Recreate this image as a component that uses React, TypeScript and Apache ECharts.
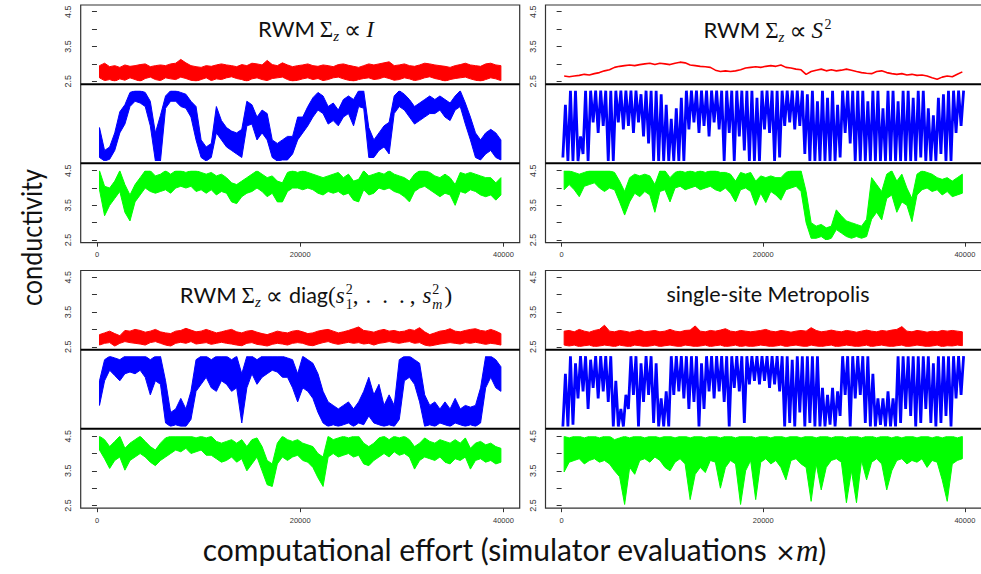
import React, { useEffect, useRef } from "react";
import * as echarts from "echarts";

// ---------------- data (bins of 500 evaluations: low / high of the trace in each bin) ----------------
const BIN = 500;
const xTickValues = [0, 20000, 40000];
const yTickLabels = [2.5, 3.5, 4.5];

// top-left: RWM Sigma_z ∝ I
const tlRedLo = [2.6,2.52,2.55,2.5,2.57,2.53,2.6,2.55,2.5,2.58, 2.62,2.55,2.52,2.6,2.57,2.55,2.62,2.58,2.53,2.5, 2.55,2.6,2.52,2.57,2.55,2.6,2.63,2.58,2.55,2.5, 2.57,2.6,2.55,2.52,2.58,2.6,2.62,2.55,2.5,2.53, 2.57,2.6,2.55,2.58,2.52,2.55,2.6,2.62,2.57,2.53, 2.5,2.55,2.58,2.6,2.55,2.57,2.62,2.58,2.53,2.55, 2.6,2.57,2.52,2.55,2.6,2.63,2.58,2.55,2.5,2.55, 2.58,2.6,2.62,2.57,2.53,2.5,2.55,2.6,2.57,2.52];
const tlRedHi = [2.95,3.02,2.92,2.95,2.9,2.97,2.93,2.95,2.98,3.0, 2.92,2.95,2.97,2.95,3.0,3.02,3.13,3.03,2.95,2.92, 2.9,2.95,2.93,2.97,3.0,2.97,2.95,2.92,2.98,2.95, 3.02,3.0,2.97,3.1,2.98,2.95,3.03,2.97,2.92,2.95, 2.97,3.0,2.95,2.93,2.97,2.95,2.92,2.98,3.0,2.96, 2.93,2.9,2.95,3.0,2.97,3.0,3.03,3.06,2.95,2.97, 3.0,2.95,2.93,2.97,3.02,3.0,2.97,2.95,2.93,2.9, 2.95,2.98,3.02,2.97,2.95,2.93,3.0,3.02,2.97,2.95];
const tlBlueLo = [2.6,2.5,2.55,2.8,3.3,3.55,4.05,4.2,4.15,4.05, 3.5,2.5,2.5,4.0,4.2,4.2,4.05,4.0,3.75,3.1, 2.6,2.5,2.6,3.3,3.1,2.9,2.8,2.7,2.6,3.5, 3.55,3.1,3.3,3.1,2.6,2.5,2.53,2.53,2.7,3.1, 3.3,3.5,3.75,3.95,3.85,3.55,3.65,3.5,3.75,3.85, 3.5,4.05,4.0,2.6,2.6,2.8,2.9,2.7,3.85,4.05, 3.95,3.75,3.55,3.65,3.75,3.85,3.85,3.95,3.75,3.65, 3.95,4.05,3.55,3.1,2.6,2.53,2.7,2.8,2.6,2.53];
const tlBlueHi = [3.45,2.8,2.9,3.3,3.9,4.1,4.45,4.5,4.5,4.45, 4.2,3.3,3.8,4.35,4.5,4.5,4.45,4.4,4.2,4.05, 3.1,2.9,3.0,4.05,3.65,3.45,3.35,3.3,3.4,4.2, 4.1,3.75,3.95,3.85,3.1,3.0,3.1,3.2,3.2,3.75, 3.75,4.05,4.3,4.45,4.35,4.05,4.15,3.95,4.25,4.35, 4.25,4.5,4.5,3.45,3.1,3.3,3.5,3.6,4.35,4.5, 4.4,4.25,4.05,4.15,4.25,4.35,4.25,4.35,4.25,4.15, 4.35,4.5,4.15,3.75,3.3,3.1,3.3,3.4,3.3,3.1];
const tlGreenLo = [3.95,3.2,3.5,3.7,3.9,3.3,3.05,3.6,3.8,4.0, 3.9,3.85,3.9,3.95,3.85,4.0,4.05,4.0,4.05,3.9, 3.95,3.85,3.95,3.8,3.9,3.85,3.6,3.55,3.75,3.85, 3.9,4.0,3.9,3.75,3.85,3.6,3.6,3.9,4.0,4.0, 3.95,4.0,3.95,3.85,3.8,3.9,3.85,3.9,3.8,3.85, 3.65,3.6,3.95,3.8,3.85,4.0,3.95,4.0,3.9,3.85, 3.75,3.6,3.9,4.0,4.05,3.95,3.85,3.75,3.85,3.8, 3.5,3.9,3.85,3.95,3.9,3.8,3.75,3.8,3.65,3.8];
const tlGreenHi = [4.5,4.05,4.0,4.2,4.5,4.1,3.8,4.1,4.3,4.5, 4.5,4.35,4.4,4.5,4.4,4.5,4.5,4.45,4.5,4.5, 4.45,4.4,4.45,4.35,4.4,4.3,4.15,4.1,4.2,4.3, 4.4,4.5,4.4,4.3,4.35,4.2,4.15,4.45,4.5,4.45, 4.5,4.45,4.4,4.35,4.3,4.35,4.4,4.45,4.3,4.4, 4.2,4.25,4.5,4.35,4.4,4.45,4.4,4.5,4.4,4.35, 4.3,4.2,4.4,4.5,4.5,4.45,4.35,4.3,4.4,4.3, 4.1,4.45,4.4,4.45,4.4,4.35,4.3,4.3,4.15,4.3];

// top-right: RWM Sigma_z ∝ S^2
const trRedMid = [2.65,2.63,2.65,2.67,2.7,2.68,2.72,2.75,2.8,2.83, 2.9,2.93,2.95,2.97,2.95,2.98,3.0,3.02,2.98,3.02, 3.0,2.98,3.02,3.05,3.03,2.97,2.95,2.93,2.92,2.9, 2.82,2.78,2.8,2.78,2.8,2.83,2.88,2.9,2.92,2.9, 2.93,2.95,2.93,2.97,2.9,2.88,2.85,2.83,2.7,2.78, 2.82,2.85,2.8,2.83,2.8,2.82,2.85,2.82,2.78,2.75, 2.73,2.72,2.78,2.8,2.75,2.72,2.7,2.72,2.68,2.7, 2.67,2.68,2.65,2.6,2.56,2.62,2.65,2.63,2.7,2.77];
const trBlueLo = [2.6,2.5,2.5,2.5,2.7,2.5,3.6,3.3,3.5,2.5, 2.5,3.6,3.4,3.5,3.3,3.6,3.2,3.0,2.5,2.5, 2.5,2.5,2.5,2.5,2.5,3.4,3.6,3.3,3.5,3.2, 3.6,3.4,2.5,3.3,2.5,3.2,2.8,2.5,2.5,2.5, 3.4,3.3,2.5,2.6,3.5,3.6,3.4,3.5,2.7,2.5, 2.5,2.5,2.5,2.5,2.5,2.6,3.3,3.0,2.5,2.5, 2.5,2.5,2.5,2.5,2.5,2.5,2.5,2.5,2.5,2.5, 2.5,2.6,2.5,2.5,2.5,2.7,2.5,2.5,3.3,3.5];
const trBlueHi = [4.1,4.5,4.5,3.2,4.5,4.5,4.5,4.5,4.5,4.5, 4.5,4.5,4.5,4.5,4.5,4.4,4.5,4.5,4.5,4.4, 4.1,3.7,4.0,4.3,4.5,4.5,4.5,4.5,4.5,4.5, 4.5,4.5,4.5,4.5,4.5,4.5,4.5,4.5,4.3,4.5, 4.5,4.5,4.5,4.5,4.5,4.5,4.5,4.5,4.4,4.5, 4.2,4.5,4.3,4.5,4.1,4.5,4.5,4.5,4.5,4.5, 4.2,4.5,4.5,4.0,4.5,4.5,4.2,4.5,4.5,4.3, 4.5,4.5,4.0,3.8,4.3,4.4,4.5,4.5,4.5,4.5];
const trGreenLo = [3.95,4.1,3.95,3.75,4.05,4.1,4.15,4.0,3.9,4.0, 3.95,3.6,3.22,3.6,3.85,3.75,3.9,3.8,3.3,3.9, 3.95,3.6,4.0,4.05,3.95,4.0,4.05,3.95,4.0,4.05, 3.95,3.9,4.0,3.85,3.6,3.95,4.0,3.9,3.5,3.85, 3.58,3.9,3.8,3.65,3.95,4.0,4.05,3.9,3.0,2.55, 2.55,2.6,2.5,2.55,2.8,2.7,2.6,2.55,2.6,2.55, 2.6,3.1,3.3,3.08,3.7,3.8,3.3,3.6,3.5,3.03, 3.8,3.95,4.0,3.9,3.95,3.8,3.9,3.75,3.8,3.85];
const trGreenHi = [4.5,4.5,4.45,4.4,4.45,4.5,4.5,4.5,4.5,4.5, 4.45,4.2,3.9,4.3,4.4,4.35,4.4,4.35,4.1,4.5, 4.5,4.3,4.45,4.5,4.45,4.5,4.45,4.5,4.45,4.5, 4.5,4.45,4.45,4.4,4.2,4.45,4.4,4.45,4.2,4.35, 4.3,4.35,4.3,4.3,4.45,4.5,4.5,4.5,3.9,3.0, 2.9,2.95,2.85,2.9,3.37,3.2,3.05,3.0,2.95,2.9, 3.1,4.3,4.1,3.9,4.4,4.5,4.2,4.4,4.0,3.7, 4.4,4.5,4.45,4.4,4.3,4.25,4.3,4.2,4.3,4.4];

// bottom-left: RWM Sigma_z ∝ diag(s1^2,...,sm^2)
const blRedLo = [2.55,2.6,2.62,2.52,2.6,2.65,2.62,2.6,2.58,2.55, 2.62,2.65,2.6,2.55,2.52,2.6,2.63,2.6,2.65,2.58, 2.6,2.62,2.57,2.6,2.63,2.6,2.58,2.55,2.53,2.6, 2.62,2.57,2.55,2.52,2.57,2.6,2.58,2.55,2.6,2.62, 2.6,2.55,2.53,2.58,2.62,2.65,2.6,2.57,2.6,2.63, 2.6,2.62,2.58,2.6,2.55,2.6,2.62,2.65,2.62,2.6, 2.63,2.65,2.6,2.62,2.55,2.52,2.55,2.58,2.6,2.62, 2.6,2.58,2.62,2.6,2.63,2.6,2.57,2.6,2.58,2.55];
const blRedHi = [2.85,2.9,2.95,2.88,2.82,2.97,2.95,3.0,2.97,2.92, 2.95,3.0,2.93,2.9,2.88,2.95,2.97,3.03,2.98,2.93, 2.95,3.0,2.95,2.9,2.93,2.97,3.0,2.93,2.9,2.95, 2.97,2.92,2.88,2.85,2.9,2.95,2.92,2.9,2.95,2.97, 2.93,2.88,2.9,2.95,2.98,3.0,2.95,2.9,2.93,2.97, 3.02,3.07,2.97,2.95,2.92,2.97,3.0,2.95,2.97,2.93, 2.95,3.0,2.97,3.05,2.93,2.85,2.9,2.95,2.97,3.02, 2.95,2.93,2.97,3.0,3.02,2.97,2.95,3.0,2.95,2.88];
const blBlueLo = [3.1,3.8,4.1,3.95,3.8,4.0,4.05,4.0,4.1,3.9, 3.4,3.8,3.7,2.6,2.5,2.55,2.5,2.5,2.7,3.5, 3.7,3.9,3.6,3.5,3.8,3.7,3.5,3.6,2.6,3.6, 4.0,3.7,3.9,4.0,4.1,4.05,3.9,3.9,3.6,3.2, 3.6,3.5,3.3,2.9,2.6,2.5,2.55,2.5,2.55,2.6, 2.5,2.6,2.55,2.8,2.6,2.55,2.5,2.55,2.5,2.7, 3.8,3.9,3.7,3.2,2.5,2.55,2.5,2.6,2.55,2.5, 2.6,2.55,2.5,2.55,2.5,2.6,3.6,3.9,3.6,3.5];
const blBlueHi = [3.8,4.4,4.5,4.45,4.4,4.5,4.5,4.5,4.5,4.5, 4.4,4.5,4.5,3.8,2.9,3.0,3.3,3.0,3.5,4.4, 4.5,4.5,4.4,4.5,4.5,4.5,4.4,4.5,4.0,4.5, 4.5,4.4,4.5,4.5,4.5,4.5,4.5,4.45,4.4,4.0, 4.5,4.4,4.3,4.0,3.5,3.2,3.1,3.0,3.1,3.2, 3.0,3.2,3.5,3.9,3.4,3.7,3.1,3.4,3.1,4.4, 4.5,4.5,4.4,4.3,3.4,3.1,3.2,3.0,3.2,3.0, 3.3,3.0,3.1,3.05,3.1,3.6,4.5,4.5,4.4,4.2];
const blGreenLo = [4.1,3.85,3.57,3.8,3.9,3.52,3.8,3.9,4.0,3.9, 3.75,3.65,3.8,3.9,4.0,4.1,4.05,4.15,4.0,4.05, 4.1,3.95,3.95,3.85,3.75,3.8,3.9,3.75,3.85,3.5, 3.7,3.9,3.5,3.1,3.05,3.7,3.9,3.8,3.9,3.95, 3.8,3.75,3.6,3.3,3.05,3.9,4.0,3.9,3.95,4.0, 3.9,3.95,3.7,3.65,3.8,3.9,4.0,3.9,4.05,3.95, 4.0,3.9,3.55,3.8,3.9,3.85,3.8,3.9,3.75,3.7, 3.85,3.8,3.9,3.55,3.8,3.85,3.75,3.8,3.7,3.75];
const blGreenHi = [4.5,4.4,4.2,4.35,4.5,4.15,4.3,4.4,4.5,4.35, 4.2,4.1,4.3,4.45,4.5,4.5,4.5,4.5,4.5,4.45, 4.5,4.45,4.5,4.35,4.3,4.35,4.4,4.3,4.4,4.2, 4.4,4.45,4.2,3.8,3.7,4.3,4.5,4.4,4.35,4.4, 4.3,4.25,4.2,4.0,3.9,4.5,4.4,4.45,4.5,4.45, 4.5,4.5,4.3,4.2,4.3,4.45,4.5,4.4,4.5,4.45, 4.5,4.4,4.2,4.3,4.45,4.35,4.3,4.4,4.35,4.3, 4.4,4.3,4.45,4.15,4.3,4.35,4.25,4.3,4.2,4.15];

// bottom-right: single-site Metropolis
const brRedLo = [2.55,2.52,2.55,2.5,2.53,2.55,2.5,2.52,2.55,2.53, 2.5,2.55,2.52,2.5,2.55,2.53,2.5,2.52,2.55,2.5, 2.53,2.55,2.52,2.5,2.55,2.53,2.5,2.52,2.55,2.5, 2.53,2.55,2.5,2.52,2.55,2.5,2.53,2.5,2.52,2.55, 2.53,2.5,2.52,2.55,2.5,2.53,2.55,2.52,2.5,2.55, 2.52,2.5,2.53,2.55,2.5,2.52,2.55,2.53,2.5,2.52, 2.55,2.5,2.53,2.55,2.52,2.5,2.53,2.55,2.5,2.52, 2.55,2.53,2.5,2.52,2.55,2.5,2.53,2.52,2.55,2.53];
const brRedHi = [2.95,2.97,2.93,3.0,2.95,2.92,2.97,3.0,3.12,2.95, 2.93,2.97,2.95,2.92,2.95,2.98,2.93,2.95,2.97,2.93, 2.95,3.0,2.95,2.93,2.97,2.98,3.1,2.95,2.93,2.97, 2.95,2.98,3.02,2.95,2.93,2.97,2.95,2.93,2.95,2.97, 3.0,2.95,2.93,2.97,2.95,2.92,2.95,2.97,2.95,3.05, 2.97,2.93,2.95,2.98,2.95,2.93,2.97,2.95,2.92,2.95, 2.98,2.95,2.93,2.97,2.95,2.98,3.0,3.08,2.95,2.93, 2.97,2.95,2.92,2.95,2.93,2.97,2.95,2.97,2.95,2.93];
const brBlueLo = [2.5,2.5,2.55,3.3,3.5,3.0,3.6,3.3,3.5,3.2, 2.5,2.5,2.5,3.0,3.4,2.5,3.2,3.4,2.6,2.5, 2.5,2.5,3.4,3.5,3.3,3.0,3.2,2.5,3.0,3.5, 3.3,3.5,3.2,2.5,3.6,3.5,2.6,3.7,3.8,3.7, 3.8,3.6,3.7,3.5,2.5,2.6,2.5,2.9,2.5,2.6, 2.5,2.5,2.5,2.55,2.5,2.8,3.4,2.5,3.3,3.4, 2.6,2.5,2.5,2.55,2.5,2.5,2.5,2.6,3.0,2.8, 2.5,2.6,3.0,2.6,2.5,2.6,2.8,2.5,3.3,3.4];
const brBlueHi = [4.0,4.5,4.3,4.5,4.5,4.4,4.5,4.5,4.5,4.5, 3.8,3.0,3.4,4.5,4.5,4.3,4.5,4.5,4.3,3.3, 3.5,4.5,4.5,4.5,4.5,4.5,4.5,4.3,4.5,4.5, 4.5,4.5,4.5,4.5,4.5,4.5,4.5,4.5,4.5,4.5, 4.5,4.5,4.5,4.5,4.5,4.4,4.5,4.5,4.5,4.5, 4.5,3.6,3.4,3.6,3.5,4.5,4.5,4.5,4.5,4.5, 4.5,4.0,3.3,3.3,3.5,3.3,4.5,4.5,4.5,4.5, 4.5,4.5,4.5,4.3,4.5,4.5,4.5,4.5,4.5,4.5];
const brGreenLo = [3.47,3.75,3.8,3.85,3.7,3.8,3.85,3.75,3.8,3.7, 3.5,3.33,2.53,3.6,3.4,3.8,3.85,3.75,3.9,3.8, 3.6,3.5,3.75,3.85,3.7,2.67,3.4,3.6,3.45,3.8, 3.75,3.0,3.6,3.8,3.7,2.53,3.5,3.8,2.67,3.75, 3.85,3.7,3.8,3.6,3.24,3.8,3.85,3.7,3.6,2.62, 3.7,2.95,3.6,3.8,3.85,3.75,2.58,3.5,2.58,3.8, 3.24,3.75,3.85,3.7,2.95,3.5,3.8,3.85,3.7,3.8, 3.75,3.85,3.6,3.8,3.75,3.24,2.62,3.7,3.8,3.85];
const brGreenHi = [4.5,4.45,4.5,4.5,4.45,4.5,4.5,4.45,4.5,4.5, 4.4,4.45,4.5,4.45,4.5,4.5,4.45,4.5,4.5,4.45, 4.5,4.5,4.45,4.5,4.5,4.45,4.5,4.5,4.45,4.5, 4.5,4.45,4.5,4.5,4.45,4.5,4.5,4.5,4.45,4.5, 4.5,4.45,4.5,4.5,4.45,4.5,4.5,4.45,4.5,4.5, 4.45,4.5,4.5,4.45,4.5,4.5,4.45,4.5,4.5,4.45, 4.5,4.5,4.45,4.5,4.5,4.45,4.5,4.45,4.5,4.5, 4.45,4.5,4.5,4.45,4.5,4.45,4.5,4.5,4.45,4.5];

const yAxisTitle = "conductivity";
const xAxisTitle = "computational effort (simulator evaluations ";
const bottomRightTitle = "single-site Metropolis";

// ---------------- layout ----------------
const COLORS = ["#ff0000", "#0000ff", "#00ff00"];
const STRIP_TOP = [11.7, 90.7, 170.7];
const STRIP_H = [69.6, 70.3, 69.3];
const BOX_TOP = 5;
const BOX_BOTTOM = 242.7;
const SEPS = [84.3, 163.3];
const PANEL_W = 439;

// band = filled between low and high; zig = trace alternating low/high (fast switching); mid = single slow path
type Trace = { lo?: number[]; hi?: number[]; mid?: number[]; zig?: boolean };
type Piece = { t?: string; fam?: string; size?: number; it?: boolean; dy?: number; gap?: number; sup?: Piece; sub?: Piece };

const SANS = "Lato";
const SERIF = "Liberation Serif";
const sigmaZ: Piece[] = [
  { t: "RWM", fam: SANS, size: 22 },
  { gap: 5 },
  { t: "Σ", fam: SERIF, size: 23 },
  { t: "z", fam: SERIF, size: 15, it: true, dy: 4 },
  { gap: 5 },
  { t: "∝", fam: "DejaVu Sans", size: 24, dy: 1 },
  { gap: 5 },
];
const sup2: Piece = { t: "2", fam: SERIF, size: 14, dy: -9 };

const panels = [
  { left: 80.7, yOff: 0, traces: [{ lo: tlRedLo, hi: tlRedHi }, { lo: tlBlueLo, hi: tlBlueHi }, { lo: tlGreenLo, hi: tlGreenHi }] as Trace[],
    title: [...sigmaZ, { t: "I", fam: SERIF, size: 23, it: true }] as Piece[], cx: 316, base: 37.5 },
  { left: 545.5, yOff: 0, traces: [{ mid: trRedMid }, { lo: trBlueLo, hi: trBlueHi, zig: true }, { lo: trGreenLo, hi: trGreenHi }] as Trace[],
    title: [...sigmaZ, { t: "S", fam: SERIF, size: 23, it: true }, { gap: 1.5 }, sup2] as Piece[], cx: 767.5, base: 38.5 },
  { left: 80.7, yOff: 265.5, traces: [{ lo: blRedLo, hi: blRedHi }, { lo: blBlueLo, hi: blBlueHi }, { lo: blGreenLo, hi: blGreenHi }] as Trace[],
    title: [...sigmaZ, { gap: 1 },
      { t: "diag", fam: SANS, size: 21.5 },
      { t: "(", fam: SERIF, size: 23 },
      { t: "s", fam: SERIF, size: 23, it: true },
      { gap: 1 },
      { sup: sup2, sub: { t: "1", fam: SERIF, size: 14, dy: 6 } },
      { t: ",", fam: SERIF, size: 23 },
      { gap: 7 },
      { t: ".", fam: SERIF, size: 23 }, { gap: 11 }, { t: ".", fam: SERIF, size: 23 }, { gap: 11 }, { t: ".", fam: SERIF, size: 23 },
      { gap: 5 },
      { t: ",", fam: SERIF, size: 23 },
      { gap: 7 },
      { t: "s", fam: SERIF, size: 23, it: true },
      { gap: 1 },
      { sup: sup2, sub: { t: "m", fam: SERIF, size: 14, it: true, dy: 6 } },
      { gap: 2 },
      { t: ")", fam: SERIF, size: 23 },
    ] as Piece[], cx: 316, base: 303 },
  { left: 545.5, yOff: 265.5, traces: [{ lo: brRedLo, hi: brRedHi }, { lo: brBlueLo, hi: brBlueHi, zig: true }, { lo: brGreenLo, hi: brGreenHi }] as Trace[],
    title: [{ t: bottomRightTitle, fam: SANS, size: 21.5 }] as Piece[], cx: 768, base: 302.5 },
];

const xLabelPieces: Piece[] = [
  { t: xAxisTitle, fam: SANS, size: 30 },
  { t: "×", fam: "DejaVu Sans", size: 25 },
  { t: "m", fam: SERIF, size: 31, it: true },
  { t: ")", fam: SANS, size: 30 },
];

let ctx: CanvasRenderingContext2D | null = null;
function widthOf(p: Piece) {
  if (!ctx) ctx = document.createElement("canvas").getContext("2d");
  ctx!.font = `${p.it ? "italic " : ""}${p.size}px "${p.fam}"`;
  return ctx!.measureText(p.t || "").width;
}
function centralK(fam?: string) {
  return fam === SANS ? 0.39 : 0.34;
}
function textEl(p: Piece, x: number, base: number) {
  const size = p.size || 19;
  return {
    type: "text", x, y: base + (p.dy || 0) - centralK(p.fam) * size, silent: true, z: 20,
    style: { text: p.t, fontSize: size, fontFamily: p.fam, fontStyle: p.it ? "italic" : "normal", fill: "#111", align: "left", verticalAlign: "middle" },
  };
}
function layoutMath(pieces: Piece[], cx: number, base: number) {
  const widths = pieces.map((p) => {
    if (p.gap) return p.gap;
    if (p.sup || p.sub) return Math.max(p.sup ? widthOf(p.sup) : 0, p.sub ? widthOf(p.sub) : 0);
    return widthOf(p);
  });
  const total = widths.reduce((a, b) => a + b, 0);
  let x = cx - total / 2;
  const els: any[] = [];
  pieces.forEach((p, i) => {
    if (p.sup || p.sub) {
      if (p.sup) els.push(textEl(p.sup, x, base));
      if (p.sub) els.push(textEl(p.sub, x, base));
    } else if (p.t) {
      els.push(textEl(p, x, base));
    }
    x += widths[i];
  });
  return els;
}

function bandRenderer(lo: number[], hi: number[], color: string) {
  return (_params: any, api: any) => {
    const top = hi.map((v, i) => api.coord([i * BIN + BIN / 2, v]));
    const bottom = lo.map((v, i) => api.coord([i * BIN + BIN / 2, v])).reverse();
    return {
      type: "polygon",
      shape: { points: top.concat(bottom) },
      style: { fill: color, stroke: color, lineWidth: 1 },
    };
  };
}

function buildOption() {
  const grid: any[] = [], xAxis: any[] = [], yAxis: any[] = [], series: any[] = [], graphic: any[] = [];
  panels.forEach((pn) => {
    for (let s = 0; s < 3; s++) {
      const k = grid.length;
      const tr = pn.traces[s];
      grid.push({ left: pn.left, top: pn.yOff + STRIP_TOP[s], width: PANEL_W, height: STRIP_H[s], containLabel: false });
      xAxis.push({
        gridIndex: k, type: "value", min: -1600, max: 41600, show: s === 2, position: "bottom", offset: BOX_BOTTOM - (STRIP_TOP[2] + STRIP_H[2]),
        axisLine: { show: false }, splitLine: { show: false },
        axisTick: { show: true, customValues: xTickValues, length: 4, lineStyle: { color: "#333", width: 1 } },
        axisLabel: { customValues: xTickValues, fontSize: 7.5, color: "#333", margin: 8, fontFamily: "Liberation Sans", formatter: (v: number) => String(v) },
      });
      yAxis.push({
        gridIndex: k, type: "value", min: 2.5, max: 4.5, interval: 0.5, show: s !== 1,
        axisLine: { show: false }, splitLine: { show: false },
        axisTick: { show: true, length: 5, lineStyle: { color: "#333", width: 1 } },
        axisLabel: {
          rotate: 90, fontSize: 9, color: "#333", margin: 8, fontFamily: "Liberation Sans",
          formatter: (v: number) => (yTickLabels.some((t) => Math.abs(t - v) < 1e-6) ? v.toFixed(1) : ""),
        },
      });
      if (tr.mid) {
        series.push({
          type: "line", xAxisIndex: k, yAxisIndex: k, data: tr.mid.map((v, i) => [i * BIN + BIN / 2, v]),
          symbol: "none", silent: true, clip: true, lineStyle: { color: COLORS[s], width: 1.6 },
        });
      } else if (tr.zig) {
        const pts: number[][] = [];
        tr.lo!.forEach((v, i) => {
          pts.push([i * BIN + BIN * 0.25, v]);
          pts.push([i * BIN + BIN * 0.75, tr.hi![i]]);
        });
        series.push({
          type: "line", xAxisIndex: k, yAxisIndex: k, data: pts,
          symbol: "none", silent: true, clip: true, lineStyle: { color: COLORS[s], width: 2.8, join: "bevel" },
        });
      } else {
        series.push({
          type: "custom", xAxisIndex: k, yAxisIndex: k, silent: true, clip: true,
          data: [[20000, 3.5]],
          renderItem: bandRenderer(tr.lo!, tr.hi!, COLORS[s]),
        });
      }
    }
    graphic.push({
      type: "rect", silent: true, z: 10,
      shape: { x: pn.left, y: pn.yOff + BOX_TOP, width: PANEL_W, height: BOX_BOTTOM - BOX_TOP },
      style: { fill: "none", stroke: "#333", lineWidth: 1.2 },
    });
    SEPS.forEach((sy) =>
      graphic.push({
        type: "line", silent: true, z: 10,
        shape: { x1: pn.left, y1: pn.yOff + sy, x2: pn.left + PANEL_W, y2: pn.yOff + sy },
        style: { stroke: "#000", lineWidth: 2 },
      })
    );
    layoutMath(pn.title, pn.cx, pn.base).forEach((e) => graphic.push(e));
  });
  graphic.push({
    type: "text", x: 31, y: 237.5, rotation: Math.PI / 2, scaleX: 0.87, silent: true,
    style: { text: yAxisTitle, fontSize: 29, fontFamily: SANS, fill: "#111", align: "center", verticalAlign: "middle" },
  });
  layoutMath(xLabelPieces, 514.5, 561).forEach((e) => graphic.push(e));
  return { animation: false, backgroundColor: "#fff", grid, xAxis, yAxis, series, graphic };
}

export default function App() {
  const ref = useRef<HTMLDivElement>(null);
  useEffect(() => {
    document.body.style.margin = "0";
    const chart = echarts.init(ref.current!, null, { renderer: "svg" });
    chart.setOption(buildOption() as any);
    return () => chart.dispose();
  }, []);
  return <div ref={ref} style={{ width: 981, height: 574 }} />;
}
